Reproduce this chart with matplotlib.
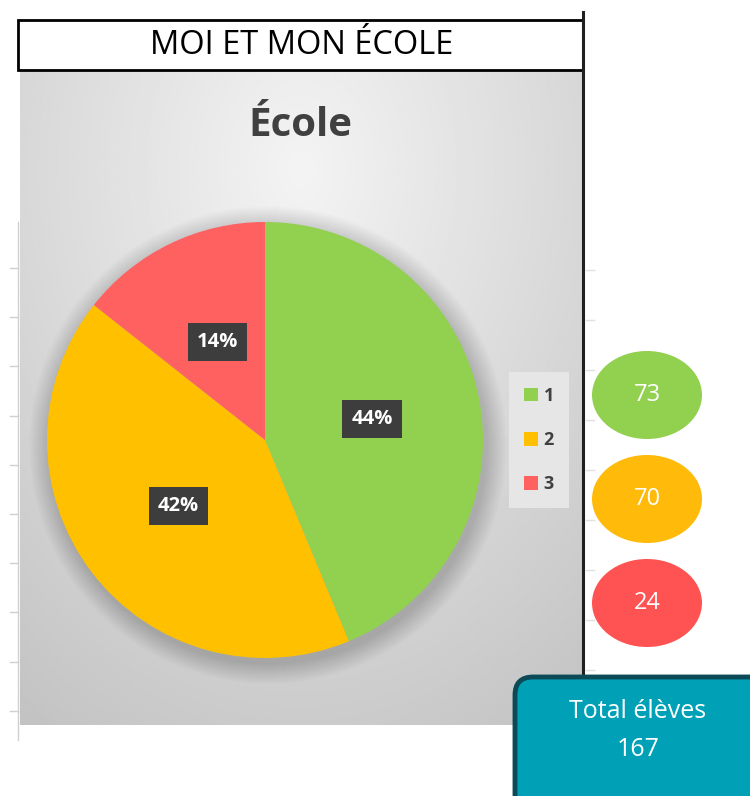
import numpy as np
import matplotlib.pyplot as plt
from matplotlib.patches import Rectangle, Ellipse, FancyBboxPatch, Circle

# data
categories = ['1', '2', '3']
eleves = [73, 70, 24]
pie_colors = ['#92D050', '#FFC000', '#FF6161']
bubble_colors = ['#92D050', '#FFBA0A', '#FF5252']

W, H = 750, 796
fig = plt.figure(figsize=(W / 100, H / 100), dpi=100)
bg = fig.add_axes([0, 0, 1, 1])
bg.set_xlim(0, W)
bg.set_ylim(H, 0)
bg.axis('off')

# grey chart area with radial shading
yy, xx = np.mgrid[0:1:300j, 0:1:300j]
r = np.sqrt((xx - 0.5) ** 2 + ((yy - 0.15) * 0.85) ** 2)
shade = 0.955 - 0.22 * r
bg.imshow(shade, cmap='gray', vmin=0, vmax=1, extent=[20, 583, 725, 70],
          aspect='auto', zorder=0, interpolation='bilinear')

# faint spreadsheet ticks
bg.plot([18, 18], [222, 740], color='#d0d0d0', lw=1, zorder=0)
for y in np.arange(268, 720, 49.2):
    bg.plot([10, 18], [y, y], color='#d0d0d0', lw=1, zorder=0)
for y in np.arange(270, 690, 50):
    bg.plot([586, 594], [y, y], color='#e0e0e0', lw=1, zorder=0)

# title box
bg.add_patch(Rectangle((18, 20), 565, 50, fc='white', ec='black', lw=2, zorder=2))
bg.plot([583, 583], [12, 725], color='#202020', lw=2.2, zorder=3)
bg.text(302, 46, 'MOI ET MON ÉCOLE', fontsize=23.5, family='Open Sans',
        ha='center', va='center', color='black', zorder=4)

# chart title
bg.text(300, 126, 'École', fontsize=29, family='Open Sans', weight='bold',
        ha='center', va='center', color='#404040', zorder=4)

# pie with soft shadow
cx, cy, rad = 265, 440, 218
for k in range(1, 22):
    bg.add_patch(Circle((cx + 3, cy + 5), rad + k, fc='black', ec='none',
                        alpha=0.007, zorder=1))
pax = fig.add_axes([(cx - rad) / W, 1 - (cy + rad) / H, 2 * rad / W, 2 * rad / H])
wedges, _, autotexts = pax.pie(eleves, colors=pie_colors, startangle=90,
                               counterclock=False, autopct='%1.0f%%',
                               pctdistance=0.5)
pax.set_xlim(-1, 1)
pax.set_ylim(-1, 1)
for t in autotexts:
    t.set_color('white')
    t.set_fontweight('bold')
    t.set_fontsize(14.5)
    t.set_family('Open Sans')
    t.set_bbox(dict(boxstyle='square,pad=0.45', fc='#3d3d3d', ec='none'))

leg = fig.legend(wedges, categories, loc='center',
                 bbox_to_anchor=(539 / W, 1 - 440 / H), frameon=True,
                 fancybox=False, facecolor='#e6e6e6', edgecolor='none',
                 framealpha=1, handlelength=0.8, handleheight=0.8,
                 handletextpad=0.3, labelspacing=1.45, borderpad=0.8,
                 prop=dict(weight='bold', size=13, family='Open Sans'))
for t in leg.get_texts():
    t.set_color('#404040')

# count bubbles
bub_y = [395, 499, 603]
for v, c, y in zip(eleves, bubble_colors, bub_y):
    bg.add_patch(Ellipse((647, y), 110, 88, fc=c, ec='none', zorder=2))
    bg.text(647, y, str(v), color='white', fontsize=17, family='Open Sans',
            ha='center', va='center', zorder=3)

# total box
bg.add_patch(FancyBboxPatch((515, 677), 260, 150,
                            boxstyle='round,pad=0,rounding_size=18',
                            fc='#00A1B7', ec='#0C4A57', lw=3.5, zorder=5))
bg.text(638, 712, 'Total élèves', color='white', fontsize=18,
        family='Open Sans', ha='center', va='center', zorder=6)
bg.text(638, 750, str(sum(eleves)), color='white', fontsize=18,
        family='Open Sans', ha='center', va='center', zorder=6)

fig.savefig('out.png', dpi=100)
